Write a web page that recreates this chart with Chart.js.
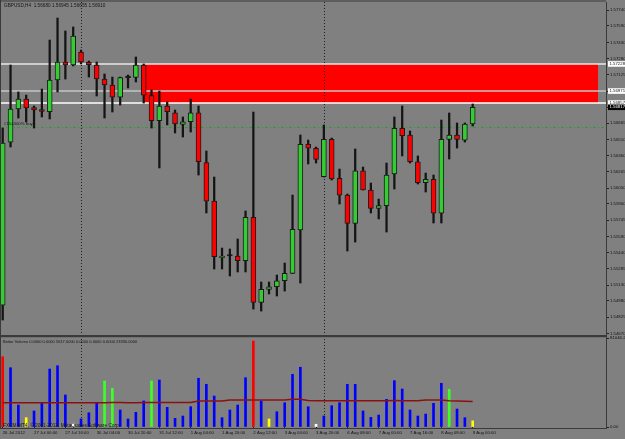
<!DOCTYPE html>
<html>
<head>
<meta charset="utf-8">
<script src="https://cdn.jsdelivr.net/npm/chart.js@4"></script>
<style>
html,body{margin:0;padding:0;background:#808080;overflow:hidden;}
#wrap{position:relative;width:625px;height:439px;}
#price{position:absolute;left:0;top:0;}
#vol{position:absolute;left:0;top:336px;}
</style>
</head>
<body>
<div id="wrap">
<canvas id="price" width="625" height="336"></canvas>
<canvas id="vol" width="625" height="103"></canvas>
</div>
<script>
// GBPUSD H4, one bar every 4 hours, 26 Jul - 9 Aug 2012
const openP = [1.54940,1.56487,1.56801,1.56895,1.56815,1.56796,1.56775,1.57076,1.57247,1.57218,
  1.57341,1.57244,1.57218,1.57085,1.57028,1.56914,1.57099,1.57101,1.57218,1.56927,
  1.56690,1.56829,1.56765,1.56655,1.56680,1.56765,1.56291,1.55927,1.55391,1.55406,
  1.55406,1.55361,1.55773,1.54966,1.55089,1.55114,1.55171,1.55241,1.55652,1.56466,
  1.56428,1.56158,1.56513,1.56143,1.55984,1.55716,1.56215,1.56032,1.55858,1.55883,
  1.56184,1.56617,1.56554,1.56300,1.56101,1.56133,1.55811,1.56513,1.56554,1.56506,
  1.56658];
const highP = [1.56620,1.57218,1.56962,1.56933,1.56829,1.56990,1.57455,1.57664,1.57541,1.57579,
  1.57360,1.57256,1.57247,1.57133,1.57104,1.57104,1.57123,1.57294,1.57228,1.56981,
  1.56971,1.56867,1.56791,1.56725,1.56895,1.56829,1.56402,1.56155,1.55481,1.55472,
  1.55567,1.55833,1.56772,1.55159,1.55159,1.55225,1.55339,1.55984,1.56554,1.56506,
  1.56440,1.56649,1.56525,1.56231,1.55994,1.56421,1.56250,1.56098,1.55946,1.56288,
  1.56725,1.56829,1.56592,1.56355,1.56193,1.56174,1.56696,1.56763,1.56668,1.56668,
  1.56848];
const lowP = [1.54798,1.56440,1.56715,1.56677,1.56620,1.56725,1.56706,1.56962,1.57085,1.57209,
  1.57228,1.57104,1.56924,1.56715,1.56772,1.56838,1.57000,1.57057,1.56857,1.56620,
  1.56241,1.56649,1.56573,1.56535,1.56582,1.56174,1.55814,1.55282,1.55282,1.55216,
  1.55254,1.55254,1.54902,1.54883,1.55045,1.55026,1.55073,1.55239,1.55149,1.56279,
  1.56288,1.56155,1.56127,1.55899,1.55453,1.55538,1.56032,1.55814,1.55757,1.55633,
  1.56041,1.56355,1.56288,1.56089,1.56013,1.55719,1.55719,1.56326,1.56430,1.56487,
  1.56639];
const closeP = [1.56478,1.56801,1.56895,1.56810,1.56791,1.56777,1.57076,1.57247,1.57218,1.57493,
  1.57247,1.57221,1.57085,1.57028,1.56914,1.57099,1.57099,1.57218,1.56933,1.56690,
  1.56829,1.56775,1.56658,1.56680,1.56765,1.56300,1.55927,1.55399,1.55401,1.55406,
  1.55361,1.55773,1.54966,1.55089,1.55114,1.55171,1.55241,1.55659,1.56466,1.56428,
  1.56323,1.56513,1.56136,1.55984,1.55716,1.56215,1.56032,1.55858,1.55883,1.56174,
  1.56617,1.56547,1.56300,1.56101,1.56133,1.55811,1.56513,1.56554,1.56513,1.56658,
  1.56817];

// Better Volume indicator
const volume = [64000,54000,20000,8500,14600,22100,52800,55800,29200,3400,
  7300,13000,22100,41900,35300,15500,7300,13400,23700,41900,
  42800,17900,7900,10000,18500,44400,38900,28200,8500,15500,
  20000,44900,78300,23700,7300,13900,22100,48000,54400,18500,
  2500,10000,19400,22100,38900,38900,14600,8800,10900,25200,
  42200,34600,15500,10000,11800,21600,39800,34300,16400,8500,
  5617];
// N normal, CU climax up, CD climax down, CH churn, LV low volume
const volKind = ['CU','N','N','LV','N','N','N','N','N','CD',
  'N','N','N','CH','CH','N','N','N','N','CH',
  'N','N','N','N','N','N','N','N','N','N',
  'N','N','CU','N','LV','N','N','N','N','N',
  'CD','N','N','N','N','N','N','N','N','N',
  'N','N','N','N','N','N','N','CH','N','N',
  'LV'];
const volAvg = [22000,22050,22050,22100,22100,22100,22150,22150,22150,22100,
  22100,22100,22150,22150,22200,22200,22150,22150,22200,22200,
  22250,22250,22200,22200,22250,23600,23700,23700,23700,24500,
  24600,24600,24650,24600,24600,24600,24650,25200,25200,24100,
  24000,24000,23950,23950,24000,24000,23950,23900,23950,24000,
  24050,24000,23950,24000,24500,24600,24500,23900,23700,23500,
  23330];

const dateTickIdx = [0,4,8,12,16,20,24,28,32,36,40,44,48,52,56,60];
const dateLabels = ['26 Jul 2012','27 Jul 00:00','27 Jul 16:00','30 Jul 04:00','30 Jul 20:00',
  '31 Jul 12:00','1 Aug 04:00','1 Aug 20:00','2 Aug 12:00','3 Aug 04:00','3 Aug 20:00',
  '6 Aug 08:00','7 Aug 00:00','7 Aug 16:00','8 Aug 08:00','9 Aug 00:00'];
const priceTicks = [1.57740,1.57590,1.57430,1.57280,1.57125,1.56970,1.56815,1.56665,1.56510,1.56360,
  1.56205,1.56050,1.55900,1.55745,1.55590,1.55440,1.55285,1.55130,1.54980,1.54825,1.54670];
const volTickValues = [0, 81046.2];
const volTickText = ['0.00', '81046.2'];

const levelPrices = [1.57228, 1.56971, 1.56857];
const zoneTop = 1.57228, zoneBottom = 1.56857;
const zoneFrom = 18, zoneTo = 76;
const orderPrice = 1.56630;
const separatorIdx = [10, 41];

const header = 'GBPUSD,H4  1.56680 1.56945 1.56655 1.56910';
const orderText = '#154400% buy';
const volTitle = 'Better Volume 0.0000 0.0000 5617.0000 0.0000 0.0000 0.0000 23330.0000';
const copyright = 'FXCM MT4, \u00a9 2001-2012, MetaQuotes Software Corp.';

// styles
const fam = '"Liberation Sans", Arial, sans-serif';
const axisFont = {family: fam, size: 4.3};
const bullCol = '#33cc33', bearCol = '#ff0000', dojiCol = '#141414';
const kindColor = {N: '#0000ff', CU: '#ff0000', CD: '#ffffff', CH: '#3cff28', LV: '#ffff00'};
const levelColors = ['#eee6e6', '#c4c4c4', '#ffffff'];
const frameCol = '#3a3a3a';
const xMin = -0.217, xMax = 77.017;
const yMin = 1.54656, yMax = 1.57816;

const idx = openP.map((v, i) => i);

const priceDecor = {
  id: 'priceDecor',
  beforeDatasetsDraw(chart) {
    const {ctx, chartArea: a, scales: {x, y}} = chart;
    ctx.save();
    ctx.beginPath();
    ctx.rect(a.left, a.top, a.right - a.left, a.bottom - a.top);
    ctx.clip();
    const x0 = x.getPixelForValue(zoneFrom), x1 = x.getPixelForValue(zoneTo);
    const y0 = y.getPixelForValue(zoneTop), y1 = y.getPixelForValue(zoneBottom);
    ctx.fillStyle = '#ff0000';
    ctx.fillRect(x0, y0, x1 - x0, y1 - y0);

    ctx.strokeStyle = '#1e1e1e';
    ctx.lineWidth = 1;
    ctx.setLineDash([1, 2]);
    separatorIdx.forEach(i => {
      const px = Math.round(x.getPixelForValue(i)) + 0.5;
      ctx.beginPath(); ctx.moveTo(px, a.top); ctx.lineTo(px, a.bottom); ctx.stroke();
    });

    ctx.setLineDash([]);
    ctx.lineWidth = 1.5;
    levelPrices.forEach((p, k) => {
      const py = y.getPixelForValue(p);
      ctx.strokeStyle = levelColors[k];
      ctx.beginPath(); ctx.moveTo(a.left, py); ctx.lineTo(a.right, py); ctx.stroke();
    });

    ctx.setLineDash([3, 2, 1, 2]);
    ctx.lineWidth = 1;
    ctx.strokeStyle = '#2e9e2e';
    const oy = Math.round(y.getPixelForValue(orderPrice)) + 0.5;
    ctx.beginPath(); ctx.moveTo(a.left, oy); ctx.lineTo(a.right, oy); ctx.stroke();
    ctx.restore();
  },
  afterDraw(chart) {
    const {ctx, chartArea: a, scales: {y}} = chart;
    ctx.save();
    ctx.fillStyle = frameCol;
    ctx.fillRect(0, 0.5, a.right, 1);
    ctx.fillRect(0, 0, 1, a.bottom);
    ctx.fillRect(0, a.bottom, a.right + 1, 1);

    ctx.font = axisFont.size + 'px ' + fam;
    ctx.textBaseline = 'middle';
    levelPrices.forEach(p => {
      const py = y.getPixelForValue(p);
      ctx.fillStyle = '#ffffff';
      ctx.fillRect(a.right + 2, py - 2.8, 625 - a.right - 2, 5.6);
      ctx.fillStyle = '#111111';
      ctx.fillText(p.toFixed(5), a.right + 3.5, py);
    });
    const bid = closeP[closeP.length - 1];
    const by = y.getPixelForValue(bid);
    ctx.fillStyle = '#000000';
    ctx.fillRect(a.right + 2, by - 2.8, 625 - a.right - 2, 5.6);
    ctx.fillStyle = '#ffffff';
    ctx.fillText(bid.toFixed(5), a.right + 3.5, by);

    ctx.fillStyle = '#151515';
    ctx.font = '4.7px ' + fam;
    ctx.fillText(header, 4, 5.5);
    ctx.font = '4.3px ' + fam;
    ctx.fillText(orderText, 4, y.getPixelForValue(orderPrice) - 3.5);
    ctx.restore();
  }
};

const volDecor = {
  id: 'volDecor',
  beforeDatasetsDraw(chart) {
    const {ctx, chartArea: a, scales: {x}} = chart;
    ctx.save();
    ctx.strokeStyle = '#1e1e1e';
    ctx.lineWidth = 1;
    ctx.setLineDash([1, 2]);
    separatorIdx.forEach(i => {
      const px = Math.round(x.getPixelForValue(i)) + 0.5;
      ctx.beginPath(); ctx.moveTo(px, 0); ctx.lineTo(px, a.bottom + 2); ctx.stroke();
    });
    ctx.restore();
  },
  afterDraw(chart) {
    const {ctx, chartArea: a} = chart;
    ctx.save();
    ctx.fillStyle = frameCol;
    ctx.fillRect(0, 0, a.right + 1, 1.2);
    ctx.fillRect(0, a.bottom + 1, a.right + 1, 1);
    ctx.fillRect(0, 0, 1, a.bottom + 2);
    ctx.fillRect(a.right, 0, 1, a.bottom + 2);
    ctx.fillStyle = '#151515';
    ctx.textBaseline = 'middle';
    ctx.font = '4px ' + fam;
    ctx.fillText(volTitle, 3, 6);
    ctx.font = '4.8px ' + fam;
    ctx.fillText(copyright, 3, a.bottom - 1);
    ctx.restore();
  }
};

new Chart(document.getElementById('price'), {
  type: 'bar',
  data: {
    datasets: [
      {
        data: idx.map(i => ({x: i, y: [openP[i], closeP[i]]})),
        backgroundColor: idx.map(i => closeP[i] > openP[i] ? bullCol : closeP[i] < openP[i] ? bearCol : dojiCol),
        borderColor: '#1a1a1a',
        borderWidth: 1,
        borderSkipped: false,
        barThickness: 5,
        minBarLength: 1.5,
        grouped: false,
        order: 1
      },
      {
        data: idx.map(i => ({x: i, y: [lowP[i], highP[i]]})),
        backgroundColor: '#141414',
        borderWidth: 0,
        barThickness: 1.6,
        grouped: false,
        order: 2
      }
    ]
  },
  options: {
    responsive: false,
    animation: false,
    devicePixelRatio: 1,
    layout: {padding: {top: 2, left: 1, right: 0, bottom: 1}},
    plugins: {legend: {display: false}, tooltip: {enabled: false}},
    scales: {
      x: {type: 'linear', min: xMin, max: xMax, display: false, offset: false},
      y: {
        position: 'right',
        min: yMin,
        max: yMax,
        afterBuildTicks: s => { s.ticks = priceTicks.map(v => ({value: v})); },
        afterFit: s => { s.width = 19; s.paddingTop = 0; s.paddingBottom = 0; },
        grid: {drawOnChartArea: false, tickLength: 3, color: '#222222'},
        border: {display: true, color: frameCol, width: 1},
        ticks: {autoSkip: false, padding: 1, color: '#111111', font: axisFont, callback: v => v.toFixed(5)}
      }
    }
  },
  plugins: [priceDecor]
});

new Chart(document.getElementById('vol'), {
  type: 'bar',
  data: {
    datasets: [
      {
        type: 'line',
        data: idx.map(i => ({x: i, y: volAvg[i]})),
        borderColor: '#8b1010',
        borderWidth: 1.5,
        pointRadius: 0,
        tension: 0,
        order: 0
      },
      {
        data: idx.map(i => ({x: i, y: volume[i]})),
        backgroundColor: volKind.map(k => kindColor[k]),
        borderWidth: 0,
        barThickness: 2,
        grouped: false,
        order: 1
      }
    ]
  },
  options: {
    responsive: false,
    animation: false,
    devicePixelRatio: 1,
    layout: {padding: {top: 2, left: 1, right: 0, bottom: 0}},
    plugins: {legend: {display: false}, tooltip: {enabled: false}},
    scales: {
      x: {
        type: 'linear', min: xMin, max: xMax, offset: false,
        afterBuildTicks: s => { s.ticks = dateTickIdx.map(v => ({value: v})); },
        afterFit: s => { s.height = 12; s.paddingLeft = 0; s.paddingRight = 0; },
        grid: {drawOnChartArea: false, tickLength: 2, color: '#222222', offset: false},
        border: {display: false},
        ticks: {autoSkip: false, maxRotation: 0, minRotation: 0, align: 'start', padding: 1,
          color: '#111111', font: axisFont, callback: (v, i) => dateLabels[i]}
      },
      y: {
        position: 'right', min: 0, max: volTickValues[1],
        afterBuildTicks: s => { s.ticks = volTickValues.map(v => ({value: v})); },
        afterFit: s => { s.width = 19; s.paddingTop = 0; s.paddingBottom = 0; },
        grid: {drawOnChartArea: false, tickLength: 3, color: '#222222'},
        border: {display: true, color: frameCol, width: 1},
        ticks: {autoSkip: false, padding: 1, color: '#111111', font: axisFont, callback: (v, i) => volTickText[i]}
      }
    }
  },
  plugins: [volDecor]
});
</script>
</body>
</html>
